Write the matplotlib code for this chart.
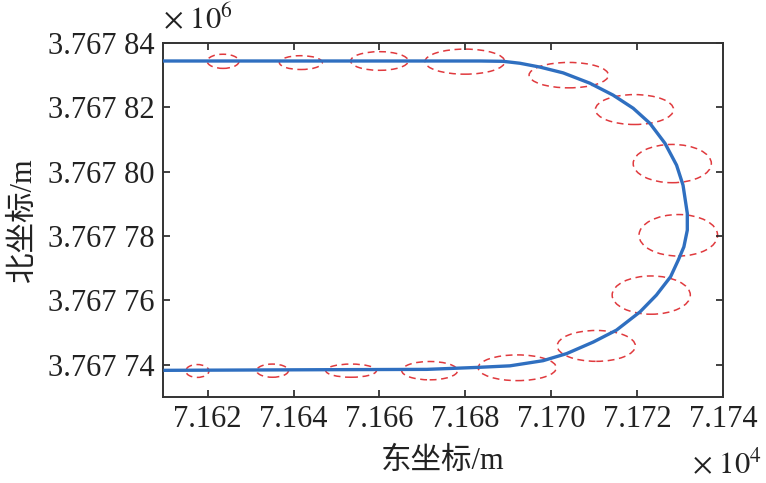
import matplotlib
matplotlib.use("Agg")
import matplotlib.pyplot as plt
from matplotlib.patches import Ellipse
from matplotlib.ticker import MultipleLocator, FuncFormatter

plt.rcParams['font.family'] = ['Liberation Serif', 'Noto Sans CJK SC']
plt.rcParams['mathtext.fontset'] = 'stix'

# track (east / north, metres)
east_track = [71609.6, 71683.4, 71688.8, 71692.7, 71697.4, 71702.8, 71709.0,
              71714.4, 71719.1, 71723.0, 71726.5, 71729.2, 71730.7, 71731.7,
              71731.7, 71730.9, 71729.6, 71727.8, 71724.5, 71720.7, 71715.2,
              71709.8, 71703.6, 71698.1, 71690.4, 71682.6, 71671.0, 71647.7,
              71609.7]
north_track = [3767834.4, 3767834.4, 3767834.3, 3767833.7, 3767832.5, 3767830.7,
               3767827.5, 3767823.8, 3767819.7, 3767815.0, 3767808.8, 3767802.0,
               3767795.8, 3767787.0, 3767781.8, 3767776.6, 3767772.5, 3767767.3,
               3767761.6, 3767756.4, 3767750.7, 3767747.0, 3767743.4, 3767741.2,
               3767739.6, 3767739.1, 3767738.5, 3767738.4, 3767738.2]

# uncertainty ellipses: centre east/north, full width/height (m)
ell_east = [71623.6, 71641.7, 71660.0, 71679.9, 71704.1, 71719.4, 71728.2, 71729.6,
            71723.3, 71710.5, 71692.1, 71671.7, 71653.4, 71635.1, 71617.6]
ell_north = [3767834.3, 3767833.9, 3767834.4, 3767834.2, 3767830.0, 3767819.3,
             3767802.5, 3767780.2, 3767761.6, 3767745.8, 3767739.0, 3767738.1,
             3767738.1, 3767738.1, 3767738.0]
ell_w = [7.4, 10.0, 13.4, 18.6, 18.5, 18.2, 18.2, 18.3, 18.2, 18.2, 18.2, 13.0,
         11.8, 7.4, 5.4]
ell_h = [4.4, 4.3, 5.8, 7.8, 7.9, 9.3, 11.9, 12.9, 11.9, 9.6, 8.0, 5.7, 4.1, 4.1, 4.0]

fig = plt.figure(figsize=(7.66, 4.83), dpi=100)
ax = fig.add_axes([0.2128, 0.178, 0.731, 0.733])

for cx, cy, w, h in zip(ell_east, ell_north, ell_w, ell_h):
    ax.add_patch(Ellipse((cx, cy), w, h, fill=False, edgecolor='#e03a3e',
                         linewidth=1.1, linestyle=(0, (4.5, 3))))

ax.plot(east_track, north_track, color='#2f6fc0', linewidth=2.4, zorder=3,
        solid_joinstyle='round', solid_capstyle='butt')

ax.set_xlim(71609.6, 71740)
ax.set_ylim(3767729.9, 3767840)
ax.xaxis.set_major_locator(MultipleLocator(20))
ax.yaxis.set_major_locator(MultipleLocator(20))
ax.xaxis.set_major_formatter(FuncFormatter(lambda v, p: '%.3f' % (v / 1e4)))


def fmt_north(v, p):
    s = '%.5f' % (v / 1e6)
    return s[:5] + ' ' + s[5:]


ax.yaxis.set_major_formatter(FuncFormatter(fmt_north))
ax.tick_params(direction='in', length=5, width=1.2, top=True, right=True,
               labelsize=22, colors='#222222', pad=6)
for sp in ax.spines.values():
    sp.set_linewidth(1.4)
    sp.set_color('#333333')

ax.set_xlabel('东坐标/m', fontsize=22, color='#222222', labelpad=9)
ax.set_ylabel('北坐标/m', fontsize=22, color='#222222', labelpad=7)

fig.text(0.213, 0.925, r'$\times\ 10^{6}$', fontsize=22, color='#222222',
         ha='left', va='bottom')
fig.text(0.995, 0.004, r'$\times\ 10^{4}$', fontsize=22, color='#222222',
         ha='right', va='bottom')

fig.savefig('out.png', dpi=100)
